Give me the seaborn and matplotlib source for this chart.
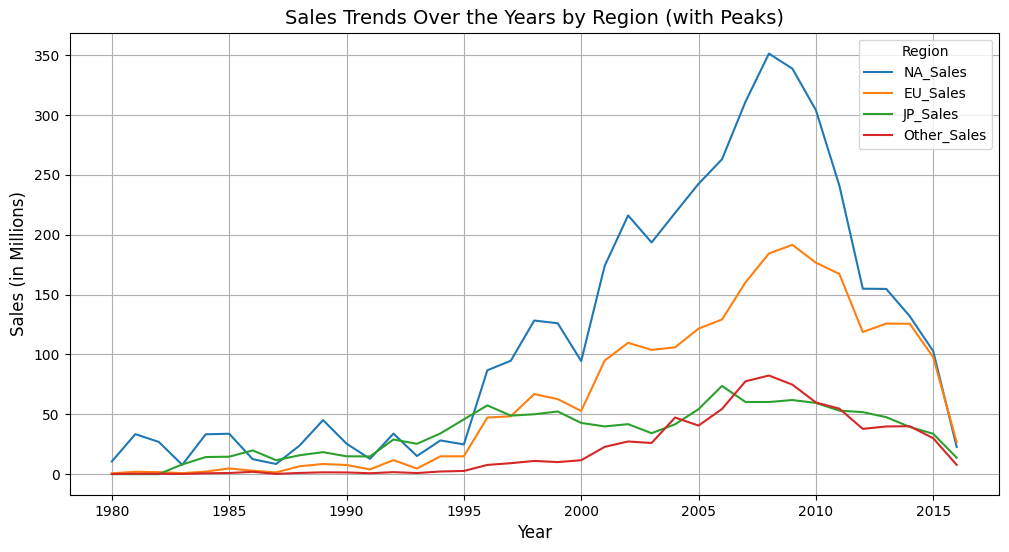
import matplotlib
matplotlib.use("Agg")
import matplotlib.pyplot as plt
import seaborn as sns
import pandas as pd

years = list(range(1980, 2017))
na_sales = [10.59, 33.40, 26.92, 7.76, 33.28, 33.73, 12.50, 8.46, 23.87, 45.15,
            25.46, 12.76, 33.87, 15.12, 28.15, 24.82, 86.76, 94.75, 128.36, 126.06,
            94.49, 173.98, 216.19, 193.59, 218.29, 242.61, 263.12, 311.18, 351.44, 338.85,
            304.24, 241.21, 154.96, 154.77, 131.97, 102.82, 22.66]
eu_sales = [0.67, 1.96, 1.65, 0.80, 2.10, 4.74, 2.84, 1.41, 6.59, 8.44,
            7.63, 3.95, 11.71, 4.65, 14.88, 14.90, 47.26, 48.32, 66.90, 62.67,
            52.75, 94.89, 109.74, 103.81, 105.98, 121.55, 129.24, 160.18, 184.40, 191.59,
            176.73, 167.31, 118.78, 125.80, 125.65, 97.71, 26.76]
jp_sales = [0.00, 0.00, 0.00, 8.10, 14.27, 14.56, 19.81, 11.63, 15.76, 18.36,
            14.88, 14.78, 28.91, 25.33, 33.99, 45.75, 57.44, 48.87, 50.04, 52.34,
            42.77, 39.86, 41.76, 34.20, 41.65, 54.28, 73.73, 60.29, 60.26, 61.89,
            59.49, 53.04, 51.80, 47.59, 39.46, 33.72, 13.70]
other_sales = [0.12, 0.32, 0.31, 0.14, 0.70, 0.92, 1.93, 0.20, 0.99, 1.50,
               1.40, 0.74, 1.65, 0.89, 2.20, 2.64, 7.69, 9.13, 11.03, 10.05,
               11.62, 22.76, 27.28, 26.01, 47.29, 40.58, 54.43, 77.58, 82.39, 74.77,
               59.90, 54.71, 37.82, 39.82, 40.02, 30.01, 7.75]

df = pd.DataFrame({"Year": years, "NA_Sales": na_sales, "EU_Sales": eu_sales,
                   "JP_Sales": jp_sales, "Other_Sales": other_sales})
long = df.melt(id_vars="Year", var_name="Region", value_name="Sales")

fig, ax = plt.subplots(figsize=(10.09, 5.52), dpi=100)
sns.lineplot(data=long, x="Year", y="Sales", hue="Region", ax=ax)
ax.set_title("Sales Trends Over the Years by Region (with Peaks)", fontsize=14)
ax.set_xlabel("Year", fontsize=12)
ax.set_ylabel("Sales (in Millions)", fontsize=12)
ax.grid(True)
ax.legend(title="Region", loc="upper right")
fig.subplots_adjust(left=0.069, right=0.99, top=0.941, bottom=0.103)
fig.savefig("out.png", dpi=100)
